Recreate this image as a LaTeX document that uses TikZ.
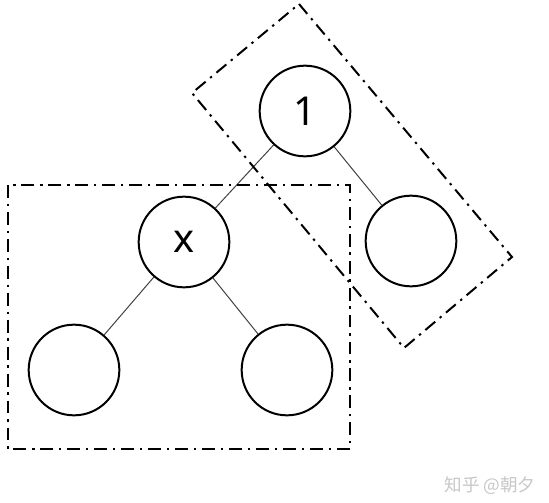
\documentclass[tikz,border=0pt]{standalone}
\usepackage{fontspec}
\setmainfont{Noto Sans}
\newfontfamily\cjk{Noto Sans CJK SC}

\begin{document}
\begin{tikzpicture}[x=0.03cm, y=-0.03cm]
                \tikzstyle{vertex} = [circle, draw, line width=1.7pt, minimum size=2.72cm, inner sep=0pt, font=\fontsize{34}{40}\selectfont]
                \tikzstyle{edge} = [draw=black!75, line width=0.85pt]
                \tikzstyle{group} = [line width=1.7pt, dash pattern=on 11pt off 5pt on 2pt off 5pt]
                \useasboundingbox (0, 0) rectangle (549, 503);
                \node[vertex] (one) at (305, 111) {1};
                \node[vertex] (right) at (411, 241) {};
                \node[vertex] (x) at (184, 242) {x};
                \node[vertex] (left) at (74, 370) {};
                \node[vertex] (mid) at (287, 370) {};
                \draw[edge] (one) -- (x);
                \draw[edge] (one) -- (right);
                \draw[edge] (x) -- (left);
                \draw[edge] (x) -- (mid);
                \draw[group] (8, 185) rectangle (350, 449);
                \draw[group] (299, 4) -- (512, 257) -- (404, 348) -- (192, 93) -- cycle;
                \node[text=black!22, font=\cjk\fontsize{15}{18}\selectfont] (mark) at (490, 486) {知乎 @朝夕};
            \end{tikzpicture}
\end{document}
